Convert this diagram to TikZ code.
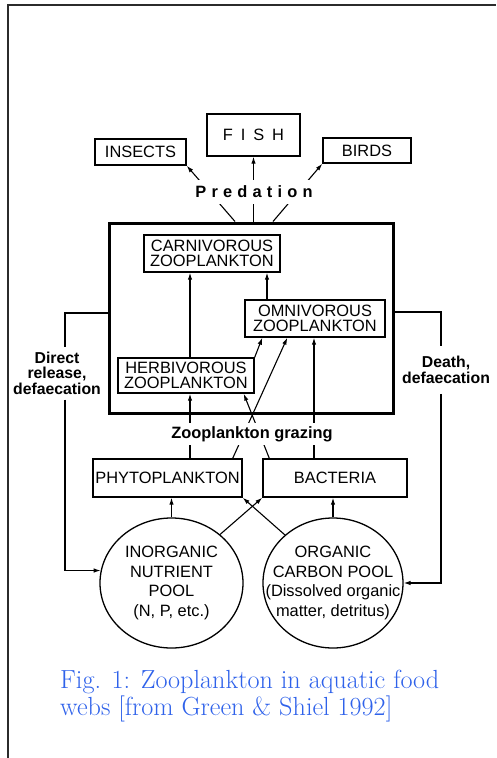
\documentclass[tikz,border=0pt]{standalone}
\usepackage{fontspec}
\usepackage{tikz}
\usetikzlibrary{arrows.meta,shapes.geometric}
\newfontfamily\figfont{Liberation Sans}
\definecolor{capblue}{HTML}{2F62EA}
\definecolor{scangray}{HTML}{2B2B2B}

\begin{document}
\begin{tikzpicture}[x=1pt,y=-1pt,
  box/.style={draw,line width=1.4pt,inner sep=0pt,align=center,
    font=\figfont\fontsize{16.4}{15}\selectfont},
  pool/.style={draw,ellipse,line width=1.3pt,inner sep=0pt,
    minimum width=143pt,minimum height=130pt},
  pooltext/.style={align=center,font=\figfont\fontsize{16.4}{19.4}\selectfont},
  lbl/.style={fill=white,inner sep=3pt,font=\figfont\bfseries\fontsize{16.4}{14}\selectfont},
  side/.style={align=center,inner xsep=1pt,font=\figfont\bfseries\fontsize{15.8}{15.5}\selectfont},
  feed/.style={line width=1.1pt,-{Latex[length=7pt,width=4.5pt]}},
  link/.style={line width=1.1pt}]
\useasboundingbox (0,0) rectangle (496,758);
\draw[line width=1.4pt,scangray] (8,758) -- (8,5) -- (496,5);

\node[box,minimum width=91pt,minimum height=26pt] (insects) at (140.5,152) {INSECTS};
\node[box,minimum width=93pt,minimum height=42pt] (fish) at (253.5,135)
  {F\hspace{7.9pt}I\hspace{7.9pt}S\hspace{7.9pt}H};
\node[box,minimum width=88pt,minimum height=25pt] (birds) at (367,150.5) {BIRDS};
\node[draw,line width=3pt,minimum width=284pt,minimum height=190pt] (zoo) at (251,318) {};
\node[box,minimum width=136pt,minimum height=37pt] (carn) at (212,253.5) {CARNIVOROUS\\ZOOPLANKTON};
\node[box,minimum width=140pt,minimum height=37pt] (omni) at (315,318.5) {OMNIVOROUS\\ZOOPLANKTON};
\node[box,minimum width=136pt,minimum height=35pt] (herb) at (186,375.5) {HERBIVOROUS\\ZOOPLANKTON};
\node[box,minimum width=149pt,minimum height=38pt] (phyto) at (167.5,478) {PHYTOPLANKTON};
\node[box,minimum width=144pt,minimum height=38pt] (bact) at (335,478) {BACTERIA};
\node[pool,label={[pooltext]center:{INORGANIC\\NUTRIENT\\POOL\\(N, P, etc.)}}] (inorg) at (171.5,583) {};
\node[pool,minimum width=140pt,label={[pooltext]center:{ORGANIC\\CARBON POOL\\(Dissolved organic\\matter, detritus)}}] (org) at (333,583) {};

\coordinate (hx) at (190,0);
\coordinate (ox) at (267,0);
\coordinate (bx) at (314,0);
\coordinate (lx) at (65,0);
\coordinate (rx) at (441,0);

\draw[feed] ([xshift=-16pt]zoo.north) -- (insects.south east);
\draw[feed] (zoo.north -| fish.south) -- (fish.south);
\draw[feed] ([xshift=22pt]zoo.north) -- (birds.south west);
\node[lbl,inner ysep=6pt] (pred) at (254,192)
  {P\hspace{5.2pt}r\hspace{5.2pt}e\hspace{5.2pt}d\hspace{5.2pt}a\hspace{5.2pt}t\hspace{5.2pt}i\hspace{5.2pt}o\hspace{5.2pt}n};

\draw[feed] (herb.north -| hx) -- (carn.south -| hx);
\draw[feed] (omni.north -| ox) -- (carn.south -| ox);
\draw[feed] (herb.north east) -- ([xshift=18pt]omni.south west);
\draw[feed] (phyto.north -| hx) -- (herb.south -| hx);
\draw[feed] ([xshift=-10pt]phyto.north east) -- ([xshift=43pt]omni.south west);
\draw[feed] ([xshift=7pt]bact.north west) -- ([xshift=-11pt]herb.south east);
\draw[feed] (bact.north -| bx) -- (omni.south -| bx);
\node[lbl] (graze) at (252,434) {Zooplankton grazing};

\draw[feed] (inorg.north) -- (inorg.north |- phyto.south);
\draw[feed] (org.north) -- (org.north |- bact.south);
\draw[feed] (inorg.45) -- (bact.south west);
\draw[feed] (org.135) -- (phyto.south east);

\node[side,inner ysep=5pt] (release) at (57,373) {Direct\\release,\\defaecation};
\node[side,inner ysep=10pt] (death) at (446,370) {Death,\\defaecation};
\draw[link] ([yshift=5pt]zoo.west) -| (release.north -| lx);
\draw[feed] (release.south -| lx) |- (inorg.170);
\draw[link] ([yshift=6pt]zoo.east) -| (death.north -| rx);
\draw[feed] (death.south -| rx) |- (org.east);

\node[anchor=north west,inner sep=0pt,align=left,text=capblue,
  font=\fontsize{26.2}{27}\selectfont] (caption) at (60,669.5)
  {Fig. 1: Zooplankton in aquatic food\\webs [from Green \& Shiel 1992]};
\end{tikzpicture}
\end{document}
